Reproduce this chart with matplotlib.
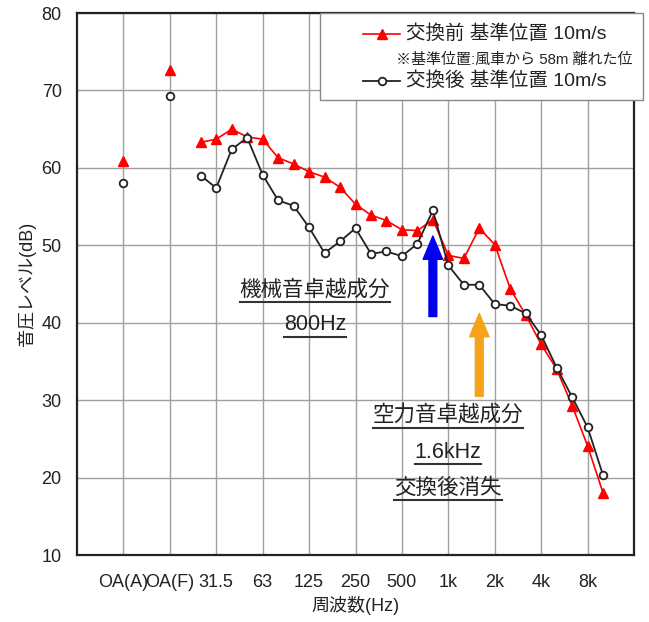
import numpy as np
import matplotlib
matplotlib.use("Agg")
import matplotlib.pyplot as plt
from matplotlib.lines import Line2D
from matplotlib.patches import Rectangle

plt.rcParams['font.family'] = ['Liberation Sans', 'Noto Sans CJK JP']

# ---------------- data ----------------
oa_labels = ['OA(A)', 'OA(F)']
oa_before = [60.9, 72.7]
oa_after = [58.0, 69.3]

bands = ['25', '31.5', '40', '50', '63', '80', '100', '125', '160', '200', '250',
         '315', '400', '500', '630', '800', '1k', '1.25k', '1.6k', '2k', '2.5k',
         '3.15k', '4k', '5k', '6.3k', '8k', '10k']
before = [63.3, 63.7, 65.0, 64.0, 63.7, 61.3, 60.5, 59.5, 58.8, 57.5, 55.3,
          53.9, 53.2, 52.0, 51.9, 53.3, 48.7, 48.3, 52.2, 50.1, 44.4,
          41.0, 37.2, 34.0, 29.3, 24.1, 18.0]
after = [59.0, 57.4, 62.4, 63.9, 59.1, 55.8, 55.1, 52.3, 49.0, 50.5, 52.2,
         48.9, 49.2, 48.6, 50.2, 54.5, 47.4, 44.9, 44.9, 42.4, 42.2,
         41.2, 38.4, 34.2, 30.4, 26.5, 20.3]

tick_labels = ['OA(A)', 'OA(F)', '31.5', '63', '125', '250', '500', '1k', '2k', '4k', '8k']
y_ticks = [10, 20, 30, 40, 50, 60, 70, 80]

label_before = '交換前 基準位置 10m/s'
label_after = '交換後 基準位置 10m/s'
note = '※基準位置:風車から 58m 離れた位'
ann1 = ['機械音卓越成分', '800Hz']
ann2 = ['空力音卓越成分', '1.6kHz', '交換後消失']

# ---------------- layout ----------------
W, H = 649, 622
fig = plt.figure(figsize=(W / 100, H / 100), dpi=100)
fx = lambda px: px / W
fy = lambda py: 1 - py / H
ax = fig.add_axes([fx(77), fy(555), fx(634) - fx(77), fy(13) - fy(555)])

x_oa = np.arange(len(oa_labels))
x_band = 2 + (np.arange(len(bands)) - 1) / 3.0

red = '#FF0000'
blk = '#222222'

ax.plot(x_oa, oa_before, linestyle='none', marker='^', color=red, markersize=7, zorder=4)
ax.plot(x_oa, oa_after, linestyle='none', marker='o', markerfacecolor='white',
        markeredgecolor=blk, markeredgewidth=1.3, markersize=5.5, zorder=5)
ax.plot(x_band, before, '-^', color=red, lw=1.2, markersize=7, zorder=4)
ax.plot(x_band, after, '-o', color=blk, lw=1.3, markerfacecolor='white',
        markeredgecolor=blk, markeredgewidth=1.3, markersize=5.5, zorder=5)

ax.set_xlim(-1, 11)
ax.set_ylim(10, 80)
ax.set_xticks(np.arange(len(tick_labels)))
ax.set_xticklabels(tick_labels)
ax.set_yticks(y_ticks)
ax.grid(True, color='#a0a0a0', lw=1.0)
ax.set_axisbelow(True)
ax.tick_params(axis='both', length=0, labelsize=13, colors='#222222')
ax.tick_params(axis='y', pad=11)
ax.tick_params(axis='x', pad=14)
for s in ax.spines.values():
    s.set_linewidth(1.6)
    s.set_color('#222222')
ax.set_ylabel('音圧レベル(dB)', fontsize=13, labelpad=4, color='#222222')
ax.set_xlabel('周波数(Hz)', fontsize=13, labelpad=3, color='#222222')

# arrows
i800 = bands.index('800')
i16 = bands.index('1.6k')
ax.annotate('', xy=(x_band[i800], 51.2), xytext=(x_band[i800], 40.8),
            arrowprops=dict(arrowstyle='simple,head_width=1.0,head_length=1.2,tail_width=0.4',
                            color='#0000EE', mutation_scale=14, shrinkA=0, shrinkB=0), zorder=6)
ax.annotate('', xy=(x_band[i16], 41.2), xytext=(x_band[i16], 30.5),
            arrowprops=dict(arrowstyle='simple,head_width=1.0,head_length=1.2,tail_width=0.4',
                            color='#F7A21B', mutation_scale=14, shrinkA=0, shrinkB=0), zorder=6)

# annotation texts (underlined)
texts = []
for s, (px, py) in zip(ann1, [(315, 290), (315, 325)]):
    texts.append(fig.text(fx(px), fy(py), s, ha='center', va='center', fontsize=15.5, color='#222222'))
for s, (px, py) in zip(ann2, [(448, 416), (448, 452), (448, 488)]):
    texts.append(fig.text(fx(px), fy(py), s, ha='center', va='center', fontsize=15.5, color='#222222'))

# legend box
fig.add_artist(Rectangle((fx(320), fy(100)), fx(643) - fx(320), fy(13) - fy(100),
                         transform=fig.transFigure, facecolor='white', edgecolor='#888888',
                         lw=1.0, zorder=10))
for py, lab, style in [(34, label_before, 'r'), (81, label_after, 'k')]:
    if style == 'r':
        fig.add_artist(Line2D([fx(363), fx(400)], [fy(py), fy(py)], color=red, lw=1.2,
                              transform=fig.transFigure, zorder=11))
        fig.add_artist(Line2D([fx(381.5)], [fy(py)], marker='^', color=red, markersize=7,
                              transform=fig.transFigure, zorder=12))
    else:
        fig.add_artist(Line2D([fx(363), fx(400)], [fy(py), fy(py)], color=blk, lw=1.3,
                              transform=fig.transFigure, zorder=11))
        fig.add_artist(Line2D([fx(381.5)], [fy(py)], marker='o', markerfacecolor='white',
                              markeredgecolor=blk, markeredgewidth=1.3, markersize=5.5,
                              transform=fig.transFigure, zorder=12))
    fig.text(fx(406), fy(py), lab, ha='left', va='center', fontsize=14, color='#222222', zorder=12)
fig.text(fx(396), fy(60), note, ha='left', va='center', fontsize=10.8, color='#222222', zorder=12)

# underline the annotation texts
fig.canvas.draw()
r = fig.canvas.get_renderer()
inv = fig.transFigure.inverted()
for t in texts:
    bb = t.get_window_extent(renderer=r)
    (x0, y0), (x1, _) = inv.transform([(bb.x0, bb.y0 - 1), (bb.x1, bb.y0)])
    fig.add_artist(Line2D([x0, x1], [y0, y0], color='#333333', lw=1.5, transform=fig.transFigure))

fig.savefig('out.png', dpi=100, facecolor='white')
